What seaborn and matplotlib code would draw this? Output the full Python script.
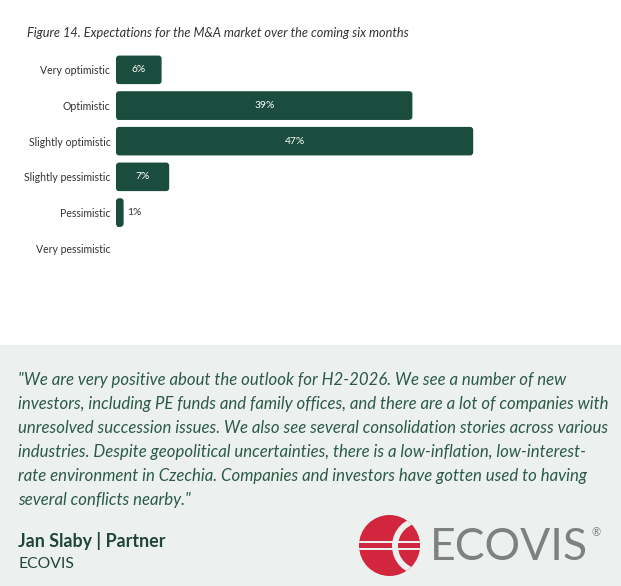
import numpy as np
import pandas as pd
import matplotlib
matplotlib.use("Agg")
import matplotlib.pyplot as plt
import seaborn as sns
from matplotlib.patches import Rectangle, Circle, FancyBboxPatch

# ------------------ DATA ------------------
categories = ["Very optimistic", "Optimistic", "Slightly optimistic",
              "Slightly pessimistic", "Pessimistic", "Very pessimistic"]
shares = [6, 39, 47, 7, 1, 0]
value_labels = ["6%", "39%", "47%", "7%", "1%", ""]

title = "Figure 14. Expectations for the M&A market over the coming six months"
quote = ('"We are very positive about the outlook for H2-2026. We see a number of new\n'
         'investors, including PE funds and family offices, and there are a lot of companies with\n'
         'unresolved succession issues. We also see several consolidation stories across various\n'
         'industries. Despite geopolitical uncertainties, there is a low-inflation, low-interest-\n'
         'rate environment in Czechia. Companies and investors have gotten used to having\n'
         'several conflicts nearby."')
person = "Jan Slaby | Partner"
company = "ECOVIS"

# ------------------ STYLE ------------------
BAR = "#1b4d3e"
QUOTE_C = "#2b5a46"
PANEL = "#ecf0ef"
RED = "#d2263f"

sns.set_theme(style="white")
plt.rcParams["font.family"] = ["Lato", "DejaVu Sans"]

W, H = 621, 586
fig = plt.figure(figsize=(W / 100, H / 100), dpi=100)

# background layer in pixel coords
bg = fig.add_axes([0, 0, 1, 1], zorder=0)
bg.set_xlim(0, W); bg.set_ylim(H, 0); bg.axis("off")
bg.add_patch(Rectangle((0, 345), W, H - 345, color=PANEL, lw=0))

bg.text(27, 33, title, fontsize=9.2, style="italic", color="#333333", va="center")
bg.text(18, 372, quote, fontsize=12.1, style="italic", color=QUOTE_C, va="top",
        linespacing=1.61)
bg.text(18, 541, person, fontsize=12.9, fontweight="bold", color="#1f4636", va="center")
bg.text(18, 564, company, fontsize=11.3, color="#1f4636", va="center")

# logo
big = Circle((389.5, 545.5), 30.5, color=RED, lw=0)
bg.add_patch(big)
hole = Circle((421, 546), 29, color=PANEL, lw=0)
hole.set_clip_path(big); bg.add_patch(hole)
inner = Circle((421, 546), 23, color=RED, lw=0)
inner.set_clip_path(big); bg.add_patch(inner)
for yy in (541.5, 548.5):
    stripe = Rectangle((355, yy - 1), 70, 2, color=PANEL, lw=0)
    stripe.set_clip_path(big); bg.add_patch(stripe)
bg.text(430, 547, "ECOVIS", fontsize=32, fontweight="normal", color="#808080",
        va="center", ha="left")
bg.text(591, 533, "®", fontsize=8, color="#808080", va="center", ha="left")

# ------------------ BAR CHART ------------------
ax = fig.add_axes([116 / W, 1 - 266 / H, 456 / W, 214 / H], zorder=1)
ax.patch.set_alpha(0)
df = pd.DataFrame({"category": categories, "share": shares})
sns.barplot(data=df, x="share", y="category", orient="h", color=BAR,
            saturation=1, width=0.8, ax=ax)
ax.set_xlim(0, 60)
ax.set_ylim(5.5, -0.5)
ax.set_xlabel(""); ax.set_ylabel("")
ax.set_xticks([])
sns.despine(ax=ax, left=True, bottom=True)
ax.tick_params(axis="y", length=0, pad=4, labelsize=7.6, labelcolor="#333333")

# round off the right ends of the bars
r = 0.4                      # ~3 px in x units
asp = (6 / 214) / (60 / 456)
for p in list(ax.patches):
    w = p.get_width()
    if w <= 0:
        continue
    p.set_width(w - r)
    ax.add_patch(FancyBboxPatch((p.get_x(), p.get_y()), w, p.get_height(),
                                boxstyle=f"round,pad=0,rounding_size={r}",
                                mutation_aspect=asp, color=BAR, lw=0))

for i, (v, lab) in enumerate(zip(shares, value_labels)):
    if not lab:
        continue
    if v >= 4:
        ax.text(v / 2, i, lab, ha="center", va="center", color="white", fontsize=7.4)
    else:
        ax.text(v + 0.5, i, lab, ha="left", va="center", color="#333333", fontsize=7.4)

fig.savefig("out.png", dpi=100)
